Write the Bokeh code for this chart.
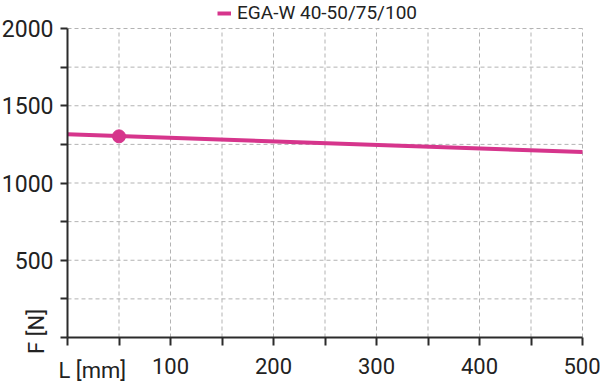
from bokeh.plotting import figure
from bokeh.models import Legend, LegendItem, FixedTicker, Range1d, Label, LinearAxis
from bokeh.embed import file_html
from bokeh.resources import INLINE
import math

# ---- data ----
series_name = "EGA-W 40-50/75/100"
line_x = [0, 500]
line_y = [1315, 1200]
point_x = [50]
point_y = [1302]

x_ticks = [0, 50, 100, 150, 200, 250, 300, 350, 400, 450, 500]
x_label_values = [100, 200, 300, 400, 500]
y_ticks = [0, 250, 500, 750, 1000, 1250, 1500, 1750, 2000]
y_label_values = [500, 1000, 1500, 2000]
x_name = "L [mm]"
y_name = "F [N]"

FONT = "Roboto"
PINK = "#d6358c"
TXT = "#222222"
AX = "#2b2b2b"

W, H = 600, 383
# plot area inside the canvas (pixels): left, right, top, bottom margins
ML, MR, MT, MB = 67, 18, 28, 46
xmin, xmax = x_ticks[0], x_ticks[-1]
ymin, ymax = y_ticks[0], y_ticks[-1]
sx = (W - ML - MR) / (xmax - xmin)
sy = (H - MT - MB) / (ymax - ymin)

p = figure(width=W, height=H, output_backend="svg", toolbar_location=None,
           x_range=Range1d(xmin - ML / sx, xmax + MR / sx),
           y_range=Range1d(ymin - MB / sy, ymax + MT / sy),
           x_axis_type=None, y_axis_type=None,
           min_border_left=0, min_border_right=0, min_border_top=0,
           min_border_bottom=0)
p.outline_line_color = None
p.background_fill_color = "white"
p.grid.visible = False

xaxis = LinearAxis(ticker=FixedTicker(ticks=x_ticks), fixed_location=0, bounds=(xmin, xmax))
yaxis = LinearAxis(ticker=FixedTicker(ticks=y_ticks), fixed_location=0, bounds=(ymin, ymax))
for ax in (xaxis, yaxis):
    ax.axis_line_color = AX
    ax.axis_line_width = 2
    ax.major_tick_line_color = AX
    ax.major_tick_line_width = 2
    ax.major_tick_in = 0
    ax.minor_tick_line_color = None
    ax.major_label_text_font = FONT
    ax.major_label_text_color = TXT
yaxis.major_label_text_font_size = "23px"
xaxis.major_label_text_font_size = "22px"
yaxis.major_tick_out = 7
yaxis.major_label_standoff = 7
xaxis.major_tick_out = 8
xaxis.major_label_standoff = 12
yaxis.major_label_overrides = {t: (str(t) if t in y_label_values else "") for t in y_ticks}
xaxis.major_label_overrides = {t: (str(t) if t in x_label_values else "") for t in x_ticks}

# dashed grid inside the data area
p.segment(x0=x_ticks[1:], x1=x_ticks[1:], y0=[ymin] * (len(x_ticks) - 1),
          y1=[ymax] * (len(x_ticks) - 1), line_color="#b3b3b3", line_width=1,
          line_dash="4 3")
p.segment(x0=[xmin] * (len(y_ticks) - 1), x1=[xmax] * (len(y_ticks) - 1),
          y0=y_ticks[1:], y1=y_ticks[1:], line_color="#b3b3b3", line_width=1,
          line_dash="4 3")

p.add_layout(xaxis, "below")
p.add_layout(yaxis, "left")

p.add_layout(Label(x=xmin, y=ymin, text=x_name, text_align="left", text_baseline="top",
                   x_offset=-9, y_offset=-20, text_font=FONT, text_font_size="22px",
                   text_color=TXT))
p.add_layout(Label(x=xmin, y=ymin, text=y_name, text_align="center", text_baseline="middle",
                   angle=math.pi / 2, x_offset=-31, y_offset=6, text_font=FONT,
                   text_font_size="22px", text_color=TXT))

lr = p.line(line_x, line_y, line_color=PINK, line_width=4)
p.scatter(point_x, point_y, size=13, fill_color=PINK, line_color=PINK)

legend = Legend(items=[LegendItem(label=series_name, renderers=[lr])],
                location=(217, H - 24), orientation="horizontal",
                padding=0, margin=0, spacing=0, glyph_width=14, glyph_height=20,
                label_height=20, label_standoff=6,
                label_text_font=FONT, label_text_font_size="19px",
                label_text_color=TXT, background_fill_alpha=0, border_line_alpha=0)
p.add_layout(legend)

open("out.html", "w").write(file_html(p, INLINE))
